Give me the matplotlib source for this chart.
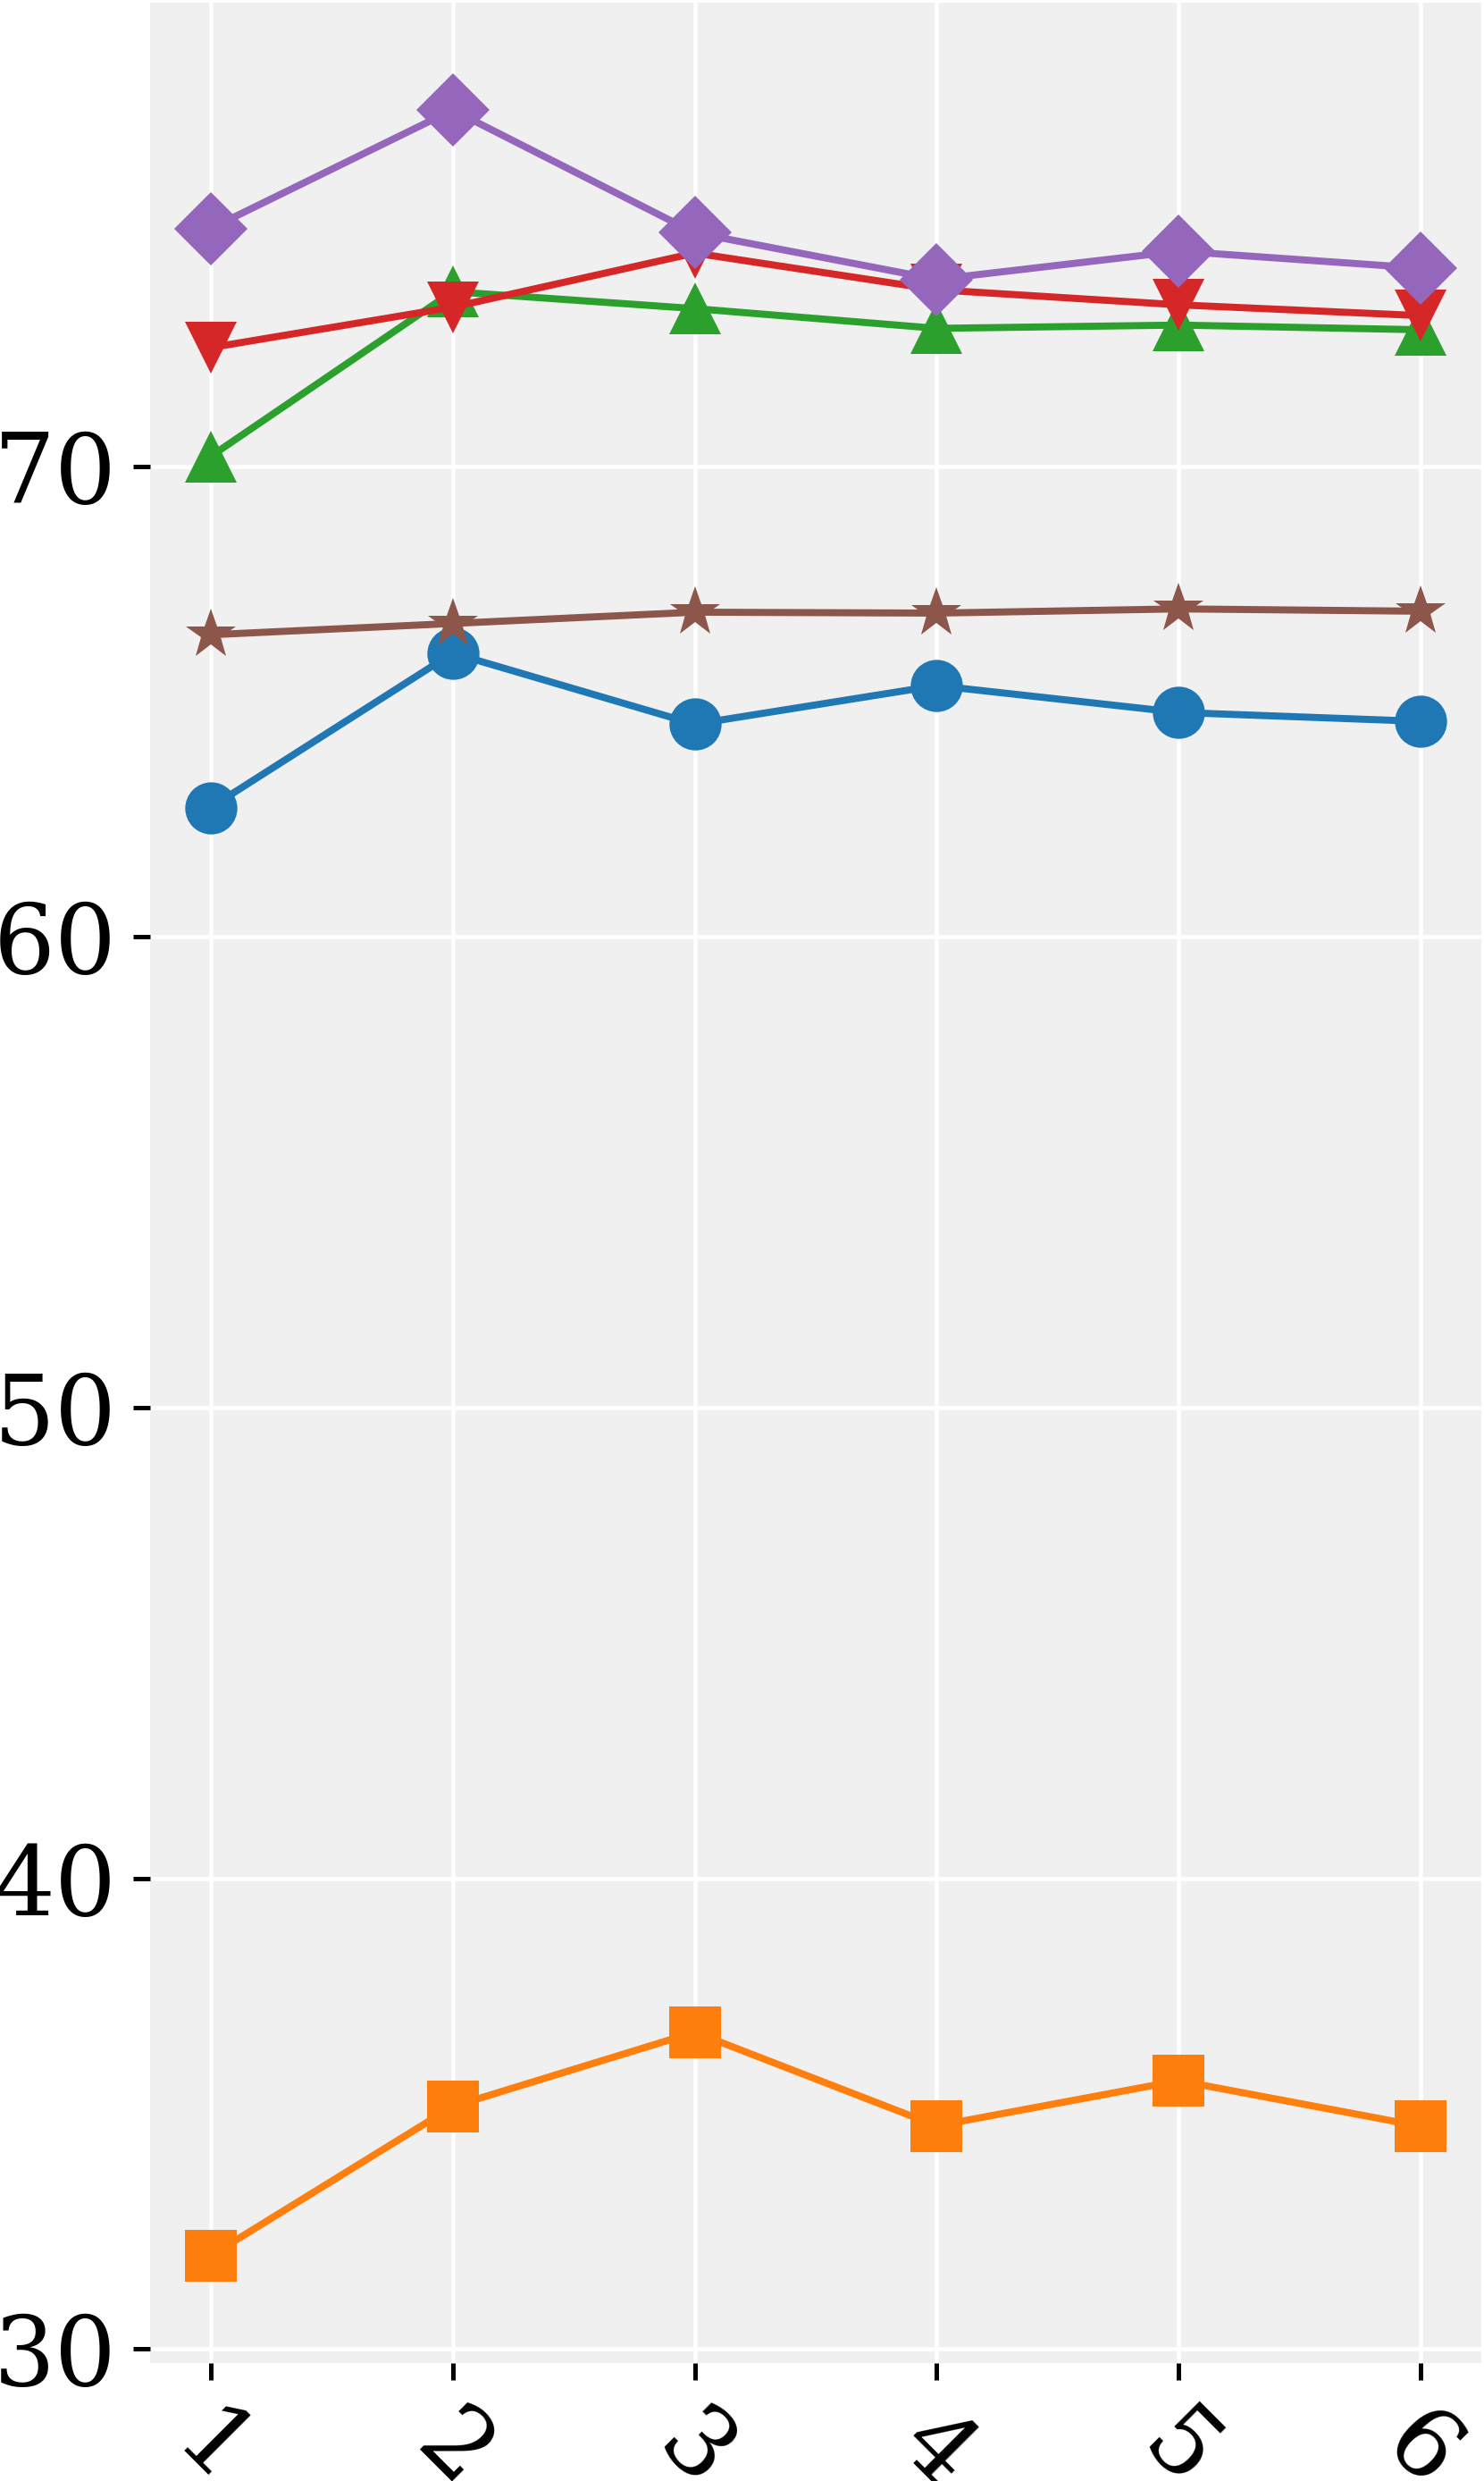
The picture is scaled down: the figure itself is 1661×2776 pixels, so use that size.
import matplotlib
matplotlib.use("Agg")
import matplotlib.pyplot as plt

x = [1, 2, 3, 4, 5, 6]
xlabels = ["1", "2", "3", "4", "5", "6"]
s_blue = [62.75, 66.03, 64.52, 65.34, 64.77, 64.58]
s_orange = [31.98, 35.15, 36.73, 34.74, 35.70, 34.73]
s_green = [70.21, 73.71, 73.35, 72.93, 73.00, 72.90]
s_red = [72.52, 73.38, 74.53, 73.75, 73.43, 73.20]
s_purple = [75.05, 77.57, 74.96, 73.97, 74.57, 74.21]
s_brown = [66.42, 66.66, 66.90, 66.88, 66.97, 66.92]

series = [s_blue, s_orange, s_green, s_red, s_purple, s_brown]
colors = ["#1f77b4", "#ff7f0e", "#2ca02c", "#d62728", "#9467bd", "#8c564b"]
markers = ["o", "s", "^", "v", "D", "*"]

plt.rcParams["font.family"] = ["DejaVu Serif"]

W, H, DPI = 1661, 2776, 300
fig = plt.figure(figsize=(W / DPI, H / DPI), dpi=DPI)
ax = fig.add_axes([168 / W, 1 - 2644 / H, (1658 - 168) / W, (2644 - 3) / H])
ax.set_facecolor("#f0f0f0")
ax.set_axisbelow(True)
ax.grid(True, color="white", linewidth=1.1)
for sp in ax.spines.values():
    sp.set_visible(False)

for ys, c, m in zip(series, colors, markers):
    ax.plot(x, ys, color=c, marker=m, markersize=14, linewidth=1.9,
            markeredgewidth=0)

ax.set_xticks(x)
ax.set_xticklabels(xlabels, rotation=-45, ha="center")
ax.set_yticks([30, 40, 50, 60, 70])
ax.tick_params(axis="both", labelsize=26, length=4.5, width=1.2, color="black")
ax.tick_params(axis="y", pad=4.5)
ax.tick_params(axis="x", pad=4.5)

fig.savefig("out.png", dpi=DPI)
